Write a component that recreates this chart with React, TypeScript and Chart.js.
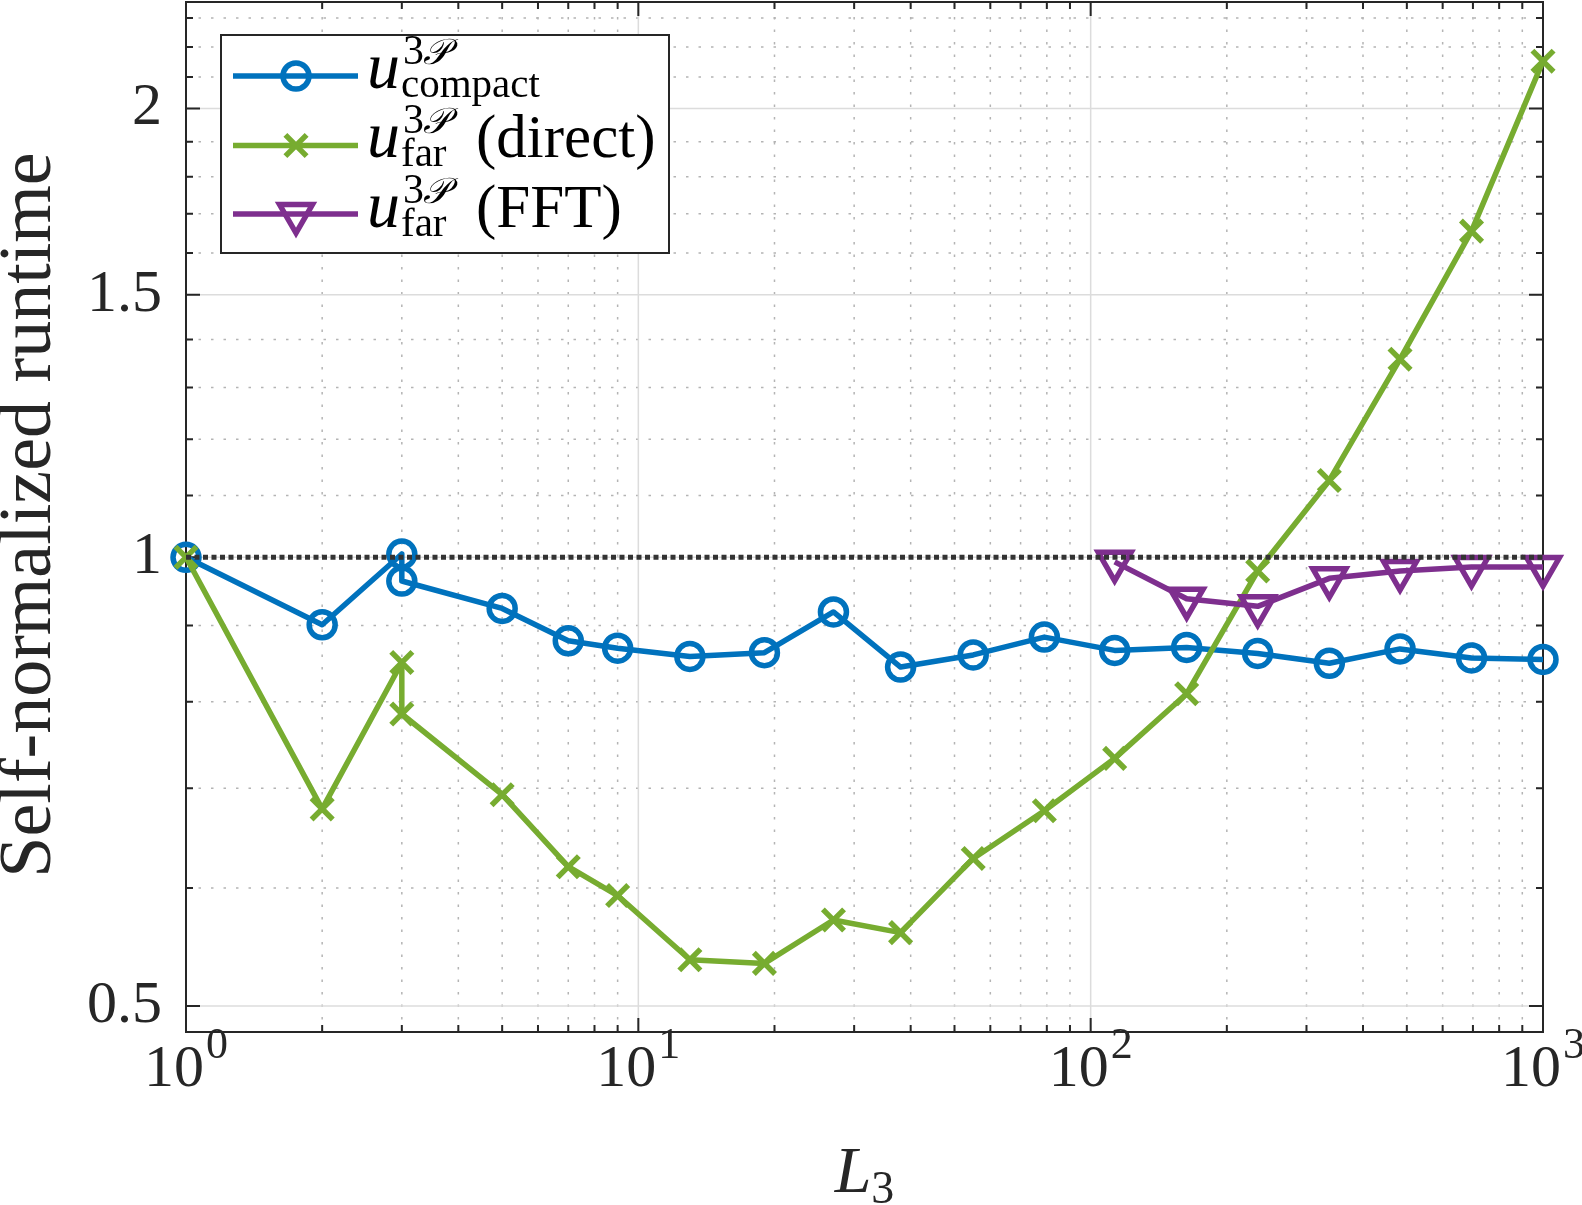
import React, { useEffect, useRef } from 'react';
import { Chart, registerables } from 'chart.js';

Chart.register(...registerables);

// Sample sizes L3 (the L3 = 3 case was timed twice)
const L3 = [1, 2, 3, 3, 5, 7, 9, 13, 19, 27, 38, 55, 79, 113, 163, 234, 337, 483, 695, 1000];
const compactRuntime = [1.0, 0.901, 1.005, 0.964, 0.924, 0.879, 0.869, 0.858, 0.863, 0.919, 0.844, 0.86, 0.884, 0.866, 0.87, 0.862, 0.849, 0.868, 0.856, 0.854];
const farDirectRuntime = [1.0, 0.678, 0.85, 0.785, 0.693, 0.62, 0.593, 0.537, 0.534, 0.571, 0.56, 0.628, 0.676, 0.733, 0.81, 0.979, 1.126, 1.358, 1.655, 2.152];
const L3FFT = [113, 163, 234, 337, 483, 695, 1000];
const farFFTRuntime = [0.993, 0.938, 0.927, 0.968, 0.979, 0.985, 0.985];
const referenceL3 = [1, 1000];
const referenceRuntime = [1, 1];

const xMajorTicks = [1, 10, 100, 1000];
const xTickExponents = ['0', '1', '2', '3'];
const xMinorTicks = [2, 3, 4, 5, 6, 7, 8, 9, 20, 30, 40, 50, 60, 70, 80, 90, 200, 300, 400, 500, 600, 700, 800, 900];
const yMajorTicks = [0.5, 1, 1.5, 2];
const yTickLabels = ['0.5', '1', '1.5', '2'];
const yMinorTicks = [0.6, 0.7, 0.8, 0.9, 1.1, 1.2, 1.3, 1.4, 1.6, 1.7, 1.8, 1.9, 2.1, 2.2, 2.3];

const legendSubscripts = ['compact', 'far', 'far'];
const legendSuffixes = ['', '(direct)', '(FFT)'];

const BLUE = '#0072BD';
const GREEN = '#77AC30';
const PURPLE = '#7E2F8E';
const AXIS = '#262626';
const SERIF = "'Liberation Serif', 'Times New Roman', 'DejaVu Serif', serif";

const TICK_FONT = 60;
const MAJOR_TICK = 14;
const MINOR_TICK = 7;

function drawMarker(ctx: CanvasRenderingContext2D, style: string, x: number, y: number, r: number, color: string, width: number) {
  ctx.save();
  ctx.strokeStyle = color;
  ctx.lineWidth = width;
  ctx.beginPath();
  if (style === 'circle') {
    ctx.arc(x, y, r, 0, Math.PI * 2);
  } else if (style === 'crossRot') {
    const o = r * Math.SQRT1_2;
    ctx.moveTo(x - o, y - o);
    ctx.lineTo(x + o, y + o);
    ctx.moveTo(x + o, y - o);
    ctx.lineTo(x - o, y + o);
  } else {
    ctx.moveTo(x, y + r);
    ctx.lineTo(x - 0.866 * r, y - 0.5 * r);
    ctx.lineTo(x + 0.866 * r, y - 0.5 * r);
    ctx.closePath();
  }
  ctx.stroke();
  ctx.restore();
}

// Grid, box and inward tick marks, drawn beneath the data
const axesFramePlugin = {
  id: 'axesFrame',
  beforeDatasetsDraw(chart: any) {
    const { ctx, chartArea: a, scales } = chart;
    const xs = scales.x;
    const ys = scales.y;
    ctx.save();
    ctx.beginPath();
    ctx.rect(a.left, a.top, a.right - a.left, a.bottom - a.top);
    ctx.clip();

    // minor grid (dotted)
    ctx.strokeStyle = '#b4b4b4';
    ctx.lineWidth = 1.5;
    ctx.setLineDash([2.5, 10]);
    for (const v of xMinorTicks) {
      const px = xs.getPixelForValue(v);
      ctx.beginPath();
      ctx.moveTo(px, a.bottom);
      ctx.lineTo(px, a.top);
      ctx.stroke();
    }
    for (const v of yMinorTicks) {
      const py = ys.getPixelForValue(v);
      ctx.beginPath();
      ctx.moveTo(a.left, py);
      ctx.lineTo(a.right, py);
      ctx.stroke();
    }
    // major grid (solid)
    ctx.setLineDash([]);
    ctx.strokeStyle = '#dcdcdc';
    ctx.lineWidth = 1.5;
    for (const v of xMajorTicks) {
      const px = xs.getPixelForValue(v);
      ctx.beginPath();
      ctx.moveTo(px, a.bottom);
      ctx.lineTo(px, a.top);
      ctx.stroke();
    }
    for (const v of yMajorTicks) {
      const py = ys.getPixelForValue(v);
      ctx.beginPath();
      ctx.moveTo(a.left, py);
      ctx.lineTo(a.right, py);
      ctx.stroke();
    }
    ctx.restore();

    // box
    ctx.save();
    ctx.strokeStyle = AXIS;
    ctx.lineWidth = 2;
    ctx.strokeRect(a.left, a.top, a.right - a.left, a.bottom - a.top);
    ctx.beginPath();
    const tickX = (v: number, len: number) => {
      const px = xs.getPixelForValue(v);
      ctx.moveTo(px, a.bottom);
      ctx.lineTo(px, a.bottom - len);
      ctx.moveTo(px, a.top);
      ctx.lineTo(px, a.top + len);
    };
    const tickY = (v: number, len: number) => {
      const py = ys.getPixelForValue(v);
      ctx.moveTo(a.left, py);
      ctx.lineTo(a.left + len, py);
      ctx.moveTo(a.right, py);
      ctx.lineTo(a.right - len, py);
    };
    xMajorTicks.forEach((v) => tickX(v, MAJOR_TICK));
    xMinorTicks.forEach((v) => tickX(v, MINOR_TICK));
    yMajorTicks.forEach((v) => tickY(v, MAJOR_TICK));
    yMinorTicks.forEach((v) => tickY(v, MINOR_TICK));
    ctx.stroke();
    ctx.restore();
  },
};

// Legend with math-style labels, plus axis titles and the 10^k tick labels
const legendPlugin = {
  id: 'mathLegend',
  afterDatasetsDraw(chart: any) {
    const { ctx } = chart;
    const box = { left: 221, top: 35, right: 669, bottom: 253 };
    ctx.save();
    ctx.fillStyle = '#ffffff';
    ctx.fillRect(box.left, box.top, box.right - box.left, box.bottom - box.top);
    ctx.strokeStyle = AXIS;
    ctx.lineWidth = 2;
    ctx.strokeRect(box.left, box.top, box.right - box.left, box.bottom - box.top);

    const rowLine = [76, 145.5, 214];
    const rowBase = [88, 157, 226.5];
    for (let i = 0; i < 3; i++) {
      const ds = chart.data.datasets[i];
      const y = rowLine[i];
      ctx.strokeStyle = ds.borderColor;
      ctx.lineWidth = ds.borderWidth;
      ctx.beginPath();
      ctx.moveTo(233, y);
      ctx.lineTo(358, y);
      ctx.stroke();
      drawMarker(ctx, ds.pointRotation === 180 ? 'triangleDown' : ds.pointStyle, 296, y, ds.pointRadius, ds.borderColor, ds.pointBorderWidth);

      const base = rowBase[i];
      ctx.fillStyle = '#000000';
      ctx.textAlign = 'left';
      ctx.textBaseline = 'alphabetic';
      ctx.font = `italic 66px ${SERIF}`;
      ctx.fillText('u', 367, base);
      ctx.font = `42px ${SERIF}`;
      ctx.fillText('3', 403, base - 24);
      const w3 = ctx.measureText('3').width;
      ctx.font = `italic 36px ${SERIF}`;
      ctx.fillText('\u{1D4AB}', 402 + w3, base - 24);
      ctx.font = `41px ${SERIF}`;
      ctx.fillText(legendSubscripts[i], 401, base + 9);
      if (legendSuffixes[i]) {
        ctx.font = `61px ${SERIF}`;
        ctx.fillText(legendSuffixes[i], 476, base);
      }
    }
    ctx.restore();
  },
  afterDraw(chart: any) {
    const { ctx, chartArea: a, scales } = chart;
    const xs = scales.x;
    ctx.save();
    ctx.fillStyle = AXIS;
    ctx.textBaseline = 'alphabetic';
    ctx.textAlign = 'left';
    // x tick labels 10^k
    xMajorTicks.forEach((v, i) => {
      const px = xs.getPixelForValue(v);
      ctx.font = `${TICK_FONT}px ${SERIF}`;
      const wb = ctx.measureText('10').width;
      ctx.font = `44px ${SERIF}`;
      const we = ctx.measureText(xTickExponents[i]).width;
      const x0 = px - (wb + 2 + we) / 2;
      ctx.font = `${TICK_FONT}px ${SERIF}`;
      ctx.fillText('10', x0, 1086);
      ctx.font = `44px ${SERIF}`;
      ctx.fillText(xTickExponents[i], x0 + wb + 2, 1058);
    });
    // x title L_3
    const cx = (a.left + a.right) / 2;
    ctx.font = `italic 66px ${SERIF}`;
    const wl = ctx.measureText('L').width;
    ctx.font = `46px ${SERIF}`;
    const ws = ctx.measureText('3').width;
    const lx = cx - (wl + ws) / 2;
    ctx.font = `italic 66px ${SERIF}`;
    ctx.fillText('L', lx, 1192);
    ctx.font = `46px ${SERIF}`;
    ctx.fillText('3', lx + wl, 1203);
    // y title
    ctx.translate(50, (a.top + a.bottom) / 2 - 2);
    ctx.rotate(-Math.PI / 2);
    ctx.textAlign = 'center';
    ctx.font = `74px ${SERIF}`;
    ctx.fillText('Self-normalized runtime', 0, 0);
    ctx.restore();
  },
};

export default function App() {
  const canvasRef = useRef<HTMLCanvasElement>(null);

  useEffect(() => {
    const canvas = canvasRef.current;
    if (!canvas) return;
    const toPoints = (xs: number[], ys: number[]) => xs.map((x, i) => ({ x, y: ys[i] }));
    const chart = new Chart(canvas, {
      type: 'line',
      data: {
        datasets: [
          {
            data: toPoints(L3, compactRuntime),
            borderColor: BLUE,
            borderWidth: 5.5,
            pointStyle: 'circle',
            pointRadius: 13,
            pointBorderWidth: 5.5,
            pointBorderColor: BLUE,
            pointBackgroundColor: 'rgba(0,0,0,0)',
            borderJoinStyle: 'round',
            clip: false,
            order: 4,
          },
          {
            data: toPoints(L3, farDirectRuntime),
            borderColor: GREEN,
            borderWidth: 5.5,
            pointStyle: 'crossRot',
            pointRadius: 15,
            pointBorderWidth: 5.5,
            pointBorderColor: GREEN,
            pointBackgroundColor: 'rgba(0,0,0,0)',
            borderJoinStyle: 'round',
            clip: false,
            order: 3,
          },
          {
            data: toPoints(L3FFT, farFFTRuntime),
            borderColor: PURPLE,
            borderWidth: 5.5,
            pointStyle: 'triangle',
            pointRotation: 180,
            pointRadius: 19,
            pointBorderWidth: 5.5,
            pointBorderColor: PURPLE,
            pointBackgroundColor: 'rgba(0,0,0,0)',
            borderJoinStyle: 'round',
            clip: false,
            order: 2,
          },
          {
            data: toPoints(referenceL3, referenceRuntime),
            borderColor: '#333333',
            borderWidth: 5,
            borderDash: [5, 3.5],
            borderCapStyle: 'butt',
            pointRadius: 0,
            clip: false,
            order: 1,
          },
        ] as any,
      },
      options: {
        animation: false,
        responsive: false,
        maintainAspectRatio: false,
        devicePixelRatio: 1,
        events: [],
        layout: { autoPadding: false, padding: { left: 0, top: 2, right: 39, bottom: 0 } },
        plugins: {
          legend: { display: false },
          tooltip: { enabled: false },
          title: { display: false },
        },
        scales: {
          x: {
            type: 'logarithmic',
            min: 1,
            max: 1000,
            bounds: 'data',
            grid: { display: false, drawTicks: false },
            border: { display: false },
            ticks: { display: false },
            afterBuildTicks: (s: any) => {
              s.ticks = xMajorTicks.map((v) => ({ value: v }));
            },
            afterFit: (s: any) => {
              s.height = 173;
              s.paddingLeft = 0;
              s.paddingRight = 0;
            },
          },
          y: {
            type: 'logarithmic',
            min: 0.4803,
            max: 2.358,
            bounds: 'data',
            grid: { display: false, drawTicks: false },
            border: { display: false },
            ticks: {
              color: AXIS,
              padding: 24,
              font: { family: SERIF, size: TICK_FONT },
              callback: (v: any) => {
                const i = yMajorTicks.indexOf(Number(v));
                return i >= 0 ? yTickLabels[i] : '';
              },
            },
            afterBuildTicks: (s: any) => {
              s.ticks = yMajorTicks.map((v) => ({ value: v }));
            },
            afterFit: (s: any) => {
              s.width = 186;
              s.paddingTop = 0;
              s.paddingBottom = 0;
            },
          },
        },
      } as any,
      plugins: [axesFramePlugin, legendPlugin],
    });
    return () => chart.destroy();
  }, []);

  return (
    <div style={{ position: 'fixed', left: 0, top: 0, width: 1582, height: 1205, background: '#ffffff' }}>
      <canvas ref={canvasRef} width={1582} height={1205} style={{ display: 'block', width: 1582, height: 1205 }} />
    </div>
  );
}
